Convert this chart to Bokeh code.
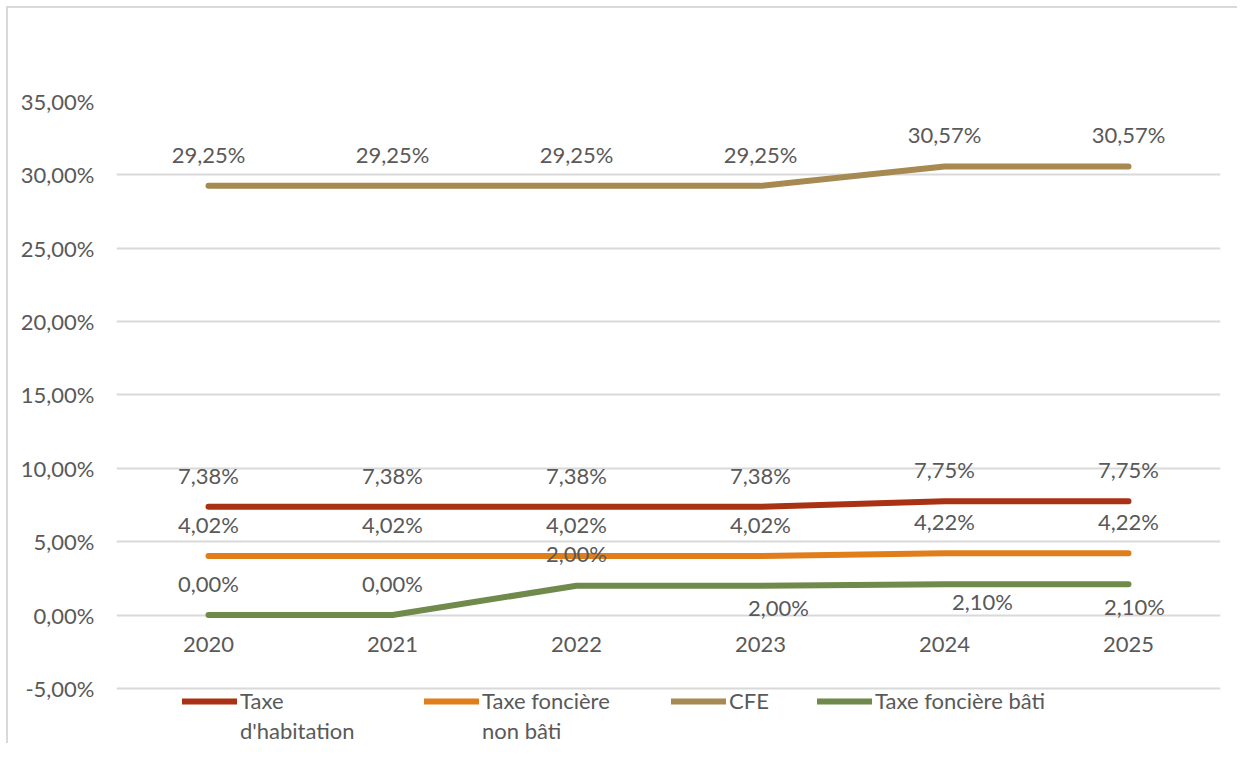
from bokeh.plotting import figure
from bokeh.models import (ColumnDataSource, Range1d, FactorRange, FixedTicker,
                          Legend, LegendItem)
from bokeh.core.properties import value
from bokeh.embed import file_html
from bokeh.resources import INLINE

years = ["2020", "2021", "2022", "2023", "2024", "2025"]
taxe_habitation = [7.38, 7.38, 7.38, 7.38, 7.75, 7.75]
taxe_fonciere_non_bati = [4.02, 4.02, 4.02, 4.02, 4.22, 4.22]
cfe = [29.25, 29.25, 29.25, 29.25, 30.57, 30.57]
taxe_fonciere_bati = [0.00, 0.00, 2.00, 2.00, 2.10, 2.10]
series_names = [["Taxe", "d'habitation"], ["Taxe foncière", "non bâti"], ["CFE"], ["Taxe foncière bâti"]]
y_ticks = [-5, 0, 5, 10, 15, 20, 25, 30, 35]

FONT = "Lato"
TXT = "#595959"
GRID = "#d9d9d9"
FS = "22px"

colors = ["#a93214", "#e07e1c", "#a68a52", "#6f8a4b"]
# label offsets (style only)
label_dx = [[0, 0, 0, 0, 0, 0], [0, 0, 0, 0, 0, 0], [0, 0, 0, 0, 0, 0], [0, 0, 0, 18, 38, 6]]
label_dy = [[-31, -31, -31, -31, -32, -32], [-32, -32, -32, -32, -32, -32],
            [-31, -31, -31, -31, -32, -32], [-32, -32, -32, 22, 17, 22]]

p = figure(width=1231, height=737, x_range=FactorRange(*years), y_range=Range1d(-8.89, 35),
           output_backend="svg", toolbar_location=None,
           min_border_left=108, min_border_right=19, min_border_top=93, min_border_bottom=0)
p.styles = {"margin-left": "8px", "margin-top": "8px",
            "box-shadow": "-2px -2px 0 0 #d9d9d9"}
p.outline_line_color = None
p.background_fill_color = "white"
p.border_fill_color = "white"

p.xgrid.grid_line_color = None
p.ygrid.grid_line_color = GRID
p.ygrid.grid_line_width = 2

p.yaxis.ticker = FixedTicker(ticks=y_ticks)
p.yaxis.major_label_overrides = {t: f"{t:.2f}".replace(".", ",") + "%" for t in y_ticks}
p.yaxis.axis_line_color = None
p.yaxis.major_tick_line_color = None
p.yaxis.minor_tick_line_color = None
p.yaxis.major_label_standoff = 16
p.yaxis.major_label_text_font = FONT
p.yaxis.major_label_text_font_size = FS
p.yaxis.major_label_text_color = TXT

p.xaxis.fixed_location = 0
p.xaxis.axis_line_color = None
p.xaxis.major_tick_line_color = None
p.xaxis.major_label_standoff = 16
p.xaxis.major_label_text_font = FONT
p.xaxis.major_label_text_font_size = FS
p.xaxis.major_label_text_color = TXT

all_series = [taxe_habitation, taxe_fonciere_non_bati, cfe, taxe_fonciere_bati]
renderers = []
for i, vals in enumerate(all_series):
    src = ColumnDataSource(dict(
        x=years, y=vals,
        label=[f"{v:.2f}".replace(".", ",") + "%" for v in vals],
        dx=label_dx[i], dy=label_dy[i]))
    r = p.line("x", "y", source=src, line_color=colors[i], line_width=6, line_cap="round",
               line_join="round")
    renderers.append(r)
    p.text("x", "y", text="label", source=src, x_offset="dx", y_offset="dy",
           text_align="center", text_baseline="middle", text_font=value(FONT),
           text_font_size=FS, text_color=TXT)

# invisible carrier for second legend lines (no glyph drawn)
blank = p.line(x=[years[0]], y=[0], line_alpha=0)

leg_x = [66, 308, 555, 701]
line_y = [31, 1]


def add_legend(label, r, x, y):
    leg = Legend(items=[LegendItem(label=label, renderers=[r])],
                 location=(x, y), orientation="horizontal",
                 padding=0, margin=0, border_line_color=None, background_fill_alpha=0,
                 glyph_width=55, glyph_height=20, label_standoff=3, spacing=0,
                 label_text_font=FONT, label_text_font_size=FS, label_text_color=TXT,
                 label_height=20)
    p.add_layout(leg, "center")


for i, r in enumerate(renderers):
    for j, part in enumerate(series_names[i]):
        add_legend(part, r if j == 0 else blank, leg_x[i], line_y[j])

open("out.html", "w").write(file_html(p, INLINE))
